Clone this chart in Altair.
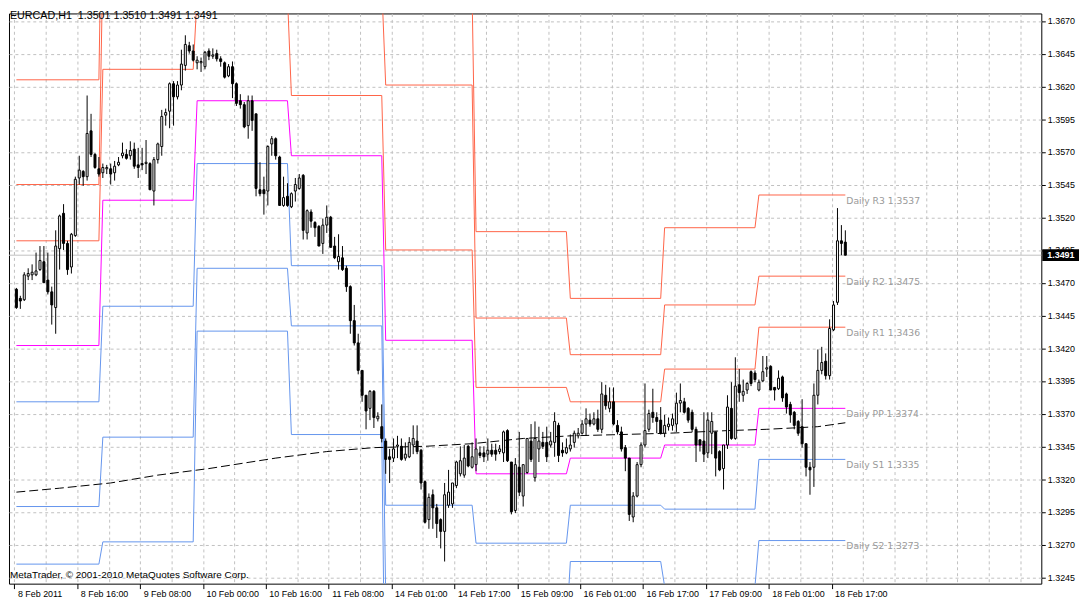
import json
import altair as alt
import pandas as pd

SYMBOL_TEXT = "EURCAD,H1\u00a0\u00a01.3501 1.3510 1.3491 1.3491"
COPYRIGHT_TEXT = "MetaTrader, \u00a9 2001-2010 MetaQuotes Software Corp."

# hourly candles, bar 0 = 8 Feb 2011 00:00
OPEN = [
    1.3465, 1.3458, 1.3457, 1.3475, 1.3476, 1.3476, 1.3480, 1.3486, 1.3472, 1.3463,
    1.3451, 1.3496, 1.3523, 1.3500, 1.3482, 1.3506, 1.3550, 1.3555, 1.3551, 1.3586,
    1.3568, 1.3557, 1.3554, 1.3557, 1.3557, 1.3554, 1.3560, 1.3567, 1.3568, 1.3567,
    1.3572, 1.3560, 1.3561, 1.3561, 1.3561, 1.3540, 1.3564, 1.3574, 1.3598, 1.3601,
    1.3622, 1.3612, 1.3621, 1.3636, 1.3651, 1.3647, 1.3638, 1.3638, 1.3635, 1.3647,
    1.3643, 1.3645, 1.3641, 1.3638, 1.3628, 1.3635, 1.3622, 1.3609, 1.3606, 1.3590,
    1.3609, 1.3599, 1.3541, 1.3541, 1.3540, 1.3576, 1.3580, 1.3566, 1.3529, 1.3536,
    1.3528, 1.3540, 1.3542, 1.3552, 1.3508, 1.3524, 1.3516, 1.3513, 1.3500, 1.3514,
    1.3520, 1.3498, 1.3486, 1.3489, 1.3481, 1.3467, 1.3441, 1.3424, 1.3403, 1.3384,
    1.3374, 1.3387, 1.3366, 1.3360, 1.3349, 1.3337, 1.3336, 1.3345, 1.3345, 1.3336,
    1.3337, 1.3346, 1.3349, 1.3342, 1.3318, 1.3289, 1.3308, 1.3298, 1.3289, 1.3280,
    1.3300, 1.3301, 1.3315, 1.3324, 1.3323, 1.3345, 1.3329, 1.3331, 1.3340, 1.3340,
    1.3339, 1.3342, 1.3342, 1.3341, 1.3340, 1.3357, 1.3333, 1.3296, 1.3329, 1.3307,
    1.3325, 1.3349, 1.3321, 1.3343, 1.3348, 1.3348, 1.3346, 1.3348, 1.3361, 1.3342,
    1.3340, 1.3343, 1.3348, 1.3353, 1.3355, 1.3362, 1.3365, 1.3362, 1.3366, 1.3358,
    1.3384, 1.3374, 1.3379, 1.3361, 1.3356, 1.3344, 1.3336, 1.3291, 1.3307, 1.3331,
    1.3346, 1.3358, 1.3371, 1.3367, 1.3365, 1.3355, 1.3360, 1.3361, 1.3362, 1.3378,
    1.3379, 1.3374, 1.3371, 1.3358, 1.3350, 1.3349, 1.3340, 1.3355, 1.3356, 1.3341,
    1.3328, 1.3346, 1.3374, 1.3351, 1.3392, 1.3384, 1.3388, 1.3402, 1.3401, 1.3388,
    1.3395, 1.3404, 1.3406, 1.3390, 1.3389, 1.3398, 1.3385, 1.3377, 1.3371, 1.3364,
    1.3360, 1.3347, 1.3329, 1.3329, 1.3384, 1.3403, 1.3410, 1.3399, 1.3434, 1.3455,
    1.3502, 1.3501,
]
HIGH = [
    1.3466, 1.3460, 1.3478, 1.3481, 1.3484, 1.3493, 1.3498, 1.3498, 1.3493, 1.3467,
    1.3510, 1.3522, 1.3530, 1.3502, 1.3508, 1.3551, 1.3567, 1.3556, 1.3613, 1.3599,
    1.3569, 1.3566, 1.3561, 1.3560, 1.3561, 1.3563, 1.3566, 1.3577, 1.3572, 1.3578,
    1.3577, 1.3573, 1.3573, 1.3579, 1.3562, 1.3566, 1.3577, 1.3602, 1.3603, 1.3623,
    1.3624, 1.3624, 1.3648, 1.3659, 1.3654, 1.3652, 1.3643, 1.3642, 1.3647, 1.3649,
    1.3649, 1.3648, 1.3643, 1.3639, 1.3637, 1.3639, 1.3623, 1.3614, 1.3608, 1.3613,
    1.3613, 1.3599, 1.3562, 1.3551, 1.3575, 1.3582, 1.3581, 1.3567, 1.3551, 1.3546,
    1.3539, 1.3550, 1.3553, 1.3553, 1.3526, 1.3526, 1.3517, 1.3514, 1.3519, 1.3529,
    1.3521, 1.3505, 1.3507, 1.3498, 1.3483, 1.3468, 1.3453, 1.3431, 1.3403, 1.3384,
    1.3388, 1.3388, 1.3371, 1.3377, 1.3351, 1.3343, 1.3351, 1.3353, 1.3351, 1.3348,
    1.3352, 1.3361, 1.3361, 1.3343, 1.3319, 1.3309, 1.3312, 1.3301, 1.3290, 1.3317,
    1.3327, 1.3317, 1.3334, 1.3345, 1.3346, 1.3346, 1.3348, 1.3351, 1.3345, 1.3345,
    1.3351, 1.3347, 1.3347, 1.3346, 1.3357, 1.3358, 1.3333, 1.3336, 1.3356, 1.3331,
    1.3351, 1.3362, 1.3364, 1.3360, 1.3356, 1.3360, 1.3356, 1.3371, 1.3363, 1.3348,
    1.3351, 1.3354, 1.3357, 1.3359, 1.3365, 1.3374, 1.3370, 1.3371, 1.3373, 1.3394,
    1.3392, 1.3390, 1.3390, 1.3365, 1.3360, 1.3346, 1.3336, 1.3310, 1.3333, 1.3348,
    1.3393, 1.3373, 1.3389, 1.3371, 1.3375, 1.3369, 1.3367, 1.3370, 1.3386, 1.3393,
    1.3382, 1.3375, 1.3373, 1.3360, 1.3350, 1.3371, 1.3371, 1.3371, 1.3356, 1.3342,
    1.3346, 1.3384, 1.3394, 1.3413, 1.3404, 1.3396, 1.3394, 1.3403, 1.3403, 1.3396,
    1.3414, 1.3414, 1.3407, 1.3390, 1.3403, 1.3399, 1.3386, 1.3379, 1.3372, 1.3365,
    1.3381, 1.3347, 1.3333, 1.3393, 1.3419, 1.3421, 1.3416, 1.3442, 1.3456, 1.3527,
    1.3514, 1.3510,
]
LOW = [
    1.3450, 1.3450, 1.3456, 1.3472, 1.3472, 1.3475, 1.3479, 1.3470, 1.3461, 1.3438,
    1.3431, 1.3480, 1.3495, 1.3476, 1.3477, 1.3505, 1.3545, 1.3544, 1.3548, 1.3566,
    1.3557, 1.3551, 1.3550, 1.3553, 1.3545, 1.3548, 1.3559, 1.3565, 1.3564, 1.3564,
    1.3557, 1.3550, 1.3556, 1.3553, 1.3541, 1.3529, 1.3561, 1.3567, 1.3590, 1.3588,
    1.3590, 1.3610, 1.3617, 1.3632, 1.3645, 1.3639, 1.3633, 1.3631, 1.3633, 1.3640,
    1.3641, 1.3639, 1.3635, 1.3626, 1.3627, 1.3611, 1.3605, 1.3603, 1.3588, 1.3580,
    1.3586, 1.3536, 1.3536, 1.3522, 1.3529, 1.3567, 1.3564, 1.3529, 1.3528, 1.3528,
    1.3527, 1.3532, 1.3541, 1.3503, 1.3503, 1.3512, 1.3505, 1.3498, 1.3492, 1.3508,
    1.3497, 1.3488, 1.3480, 1.3479, 1.3463, 1.3431, 1.3422, 1.3400, 1.3379, 1.3358,
    1.3365, 1.3359, 1.3364, 1.3348, 1.3324, 1.3317, 1.3333, 1.3336, 1.3334, 1.3334,
    1.3336, 1.3339, 1.3339, 1.3312, 1.3286, 1.3282, 1.3282, 1.3275, 1.3267, 1.3257,
    1.3298, 1.3298, 1.3313, 1.3322, 1.3321, 1.3329, 1.3328, 1.3326, 1.3336, 1.3333,
    1.3334, 1.3337, 1.3334, 1.3339, 1.3333, 1.3333, 1.3293, 1.3294, 1.3307, 1.3299,
    1.3324, 1.3333, 1.3318, 1.3333, 1.3343, 1.3333, 1.3344, 1.3337, 1.3333, 1.3337,
    1.3339, 1.3341, 1.3344, 1.3351, 1.3354, 1.3353, 1.3360, 1.3361, 1.3356, 1.3355,
    1.3373, 1.3371, 1.3361, 1.3354, 1.3341, 1.3326, 1.3288, 1.3287, 1.3306, 1.3329,
    1.3344, 1.3356, 1.3363, 1.3355, 1.3354, 1.3352, 1.3357, 1.3357, 1.3356, 1.3371,
    1.3370, 1.3363, 1.3356, 1.3333, 1.3341, 1.3333, 1.3336, 1.3339, 1.3322, 1.3326,
    1.3312, 1.3343, 1.3350, 1.3350, 1.3379, 1.3379, 1.3385, 1.3391, 1.3394, 1.3387,
    1.3394, 1.3398, 1.3388, 1.3380, 1.3388, 1.3379, 1.3370, 1.3363, 1.3358, 1.3353,
    1.3344, 1.3322, 1.3308, 1.3314, 1.3377, 1.3400, 1.3396, 1.3396, 1.3433, 1.3453,
    1.3491, 1.3491,
]
CLOSE = [
    1.3451, 1.3456, 1.3476, 1.3477, 1.3478, 1.3479, 1.3487, 1.3470, 1.3463, 1.3453,
    1.3498, 1.3521, 1.3500, 1.3480, 1.3507, 1.3549, 1.3556, 1.3551, 1.3584, 1.3568,
    1.3558, 1.3553, 1.3558, 1.3558, 1.3553, 1.3559, 1.3562, 1.3569, 1.3565, 1.3571,
    1.3559, 1.3558, 1.3560, 1.3562, 1.3541, 1.3564, 1.3576, 1.3597, 1.3600, 1.3622,
    1.3612, 1.3621, 1.3637, 1.3652, 1.3647, 1.3640, 1.3640, 1.3639, 1.3646, 1.3643,
    1.3644, 1.3641, 1.3639, 1.3627, 1.3635, 1.3622, 1.3607, 1.3606, 1.3589, 1.3609,
    1.3594, 1.3542, 1.3538, 1.3538, 1.3574, 1.3580, 1.3567, 1.3529, 1.3535, 1.3529,
    1.3538, 1.3545, 1.3550, 1.3510, 1.3525, 1.3517, 1.3512, 1.3498, 1.3514, 1.3520,
    1.3497, 1.3489, 1.3490, 1.3480, 1.3467, 1.3441, 1.3424, 1.3403, 1.3384, 1.3372,
    1.3387, 1.3367, 1.3368, 1.3351, 1.3335, 1.3335, 1.3343, 1.3346, 1.3335, 1.3339,
    1.3348, 1.3351, 1.3341, 1.3317, 1.3287, 1.3306, 1.3298, 1.3286, 1.3280, 1.3308,
    1.3310, 1.3317, 1.3333, 1.3334, 1.3336, 1.3330, 1.3337, 1.3343, 1.3338, 1.3337,
    1.3342, 1.3339, 1.3339, 1.3343, 1.3356, 1.3334, 1.3295, 1.3331, 1.3310, 1.3331,
    1.3351, 1.3335, 1.3351, 1.3349, 1.3345, 1.3337, 1.3349, 1.3364, 1.3338, 1.3340,
    1.3344, 1.3346, 1.3355, 1.3355, 1.3362, 1.3366, 1.3362, 1.3366, 1.3358, 1.3385,
    1.3376, 1.3379, 1.3362, 1.3356, 1.3343, 1.3336, 1.3293, 1.3307, 1.3331, 1.3346,
    1.3357, 1.3370, 1.3367, 1.3364, 1.3355, 1.3361, 1.3362, 1.3366, 1.3378, 1.3380,
    1.3371, 1.3365, 1.3358, 1.3346, 1.3346, 1.3339, 1.3365, 1.3364, 1.3336, 1.3327,
    1.3346, 1.3375, 1.3351, 1.3391, 1.3386, 1.3387, 1.3393, 1.3393, 1.3396, 1.3394,
    1.3402, 1.3405, 1.3388, 1.3388, 1.3397, 1.3382, 1.3375, 1.3369, 1.3361, 1.3355,
    1.3347, 1.3329, 1.3327, 1.3384, 1.3403, 1.3409, 1.3399, 1.3435, 1.3453, 1.3502,
    1.3500, 1.3491,
]

# daily pivot levels, one value per day segment
DAY_START = [0, 22, 46, 70, 94, 117, 141, 165, 189]
LAST_BAR = 211
R3 = [1.3625, 1.3814, 1.3817, 1.3743, 1.3689, 1.3509, 1.3458, 1.3512, 1.3537]
R2 = [1.3545, 1.3714, 1.3737, 1.3697, 1.3621, 1.3443, 1.3415, 1.3453, 1.3475]
R1 = [1.3502, 1.3633, 1.3689, 1.3613, 1.3495, 1.3390, 1.3379, 1.3404, 1.3436]
PP = [1.3422, 1.3533, 1.3609, 1.3567, 1.3426, 1.3324, 1.3336, 1.3346, 1.3374]
S1 = [1.3379, 1.3452, 1.3561, 1.3483, 1.3300, 1.3271, 1.3300, 1.3297, 1.3335]
S2 = [1.3299, 1.3352, 1.3481, 1.3437, 1.3231, 1.3205, 1.3257, 1.3238, 1.3273]
S3 = [1.3255, 1.3272, 1.3433, 1.3354, 1.3104, 1.3152, 1.3221, 1.3189, 1.3234]

# moving average (dashed black)
MA_BAR = [0, 11, 24, 36, 49, 66, 79, 91, 104, 116, 129, 141, 154, 166, 181, 191, 204, 211]
MA_VALUE = [1.3310, 1.3313, 1.3317, 1.3323, 1.3328, 1.3336, 1.3341, 1.3344, 1.3345,
            1.3347, 1.3351, 1.3353, 1.3354, 1.3355, 1.3357, 1.3358, 1.3360, 1.3363]

X_LABELS = ["8 Feb 2011", "8 Feb 16:00", "9 Feb 08:00", "10 Feb 00:00", "10 Feb 16:00",
            "11 Feb 08:00", "14 Feb 01:00", "14 Feb 17:00", "15 Feb 09:00", "16 Feb 01:00",
            "16 Feb 17:00", "17 Feb 09:00", "18 Feb 01:00", "18 Feb 17:00"]
PRICE_TICKS = [1.3245, 1.3270, 1.3295, 1.3320, 1.3345, 1.3370, 1.3395, 1.3420, 1.3445,
               1.3470, 1.3495, 1.3520, 1.3545, 1.3570, 1.3595, 1.3620, 1.3645, 1.3670]
PRICE_NOW = 1.3491

LEVEL_NAMES = ["R3", "R2", "R1", "PP", "S1", "S2", "S3"]
LEVEL_COLORS = ["#ff6347", "#ff6347", "#ff6347", "#ff00ff", "#6495ed", "#6495ed", "#6495ed"]

PLOT_WIDTH = 1041
PLOT_HEIGHT = 575
X_DOMAIN = [-0.625, 259.625]
Y_DOMAIN = [1.324008, 1.367569]
AXIS_FONT = "Liberation Sans"
GRID_COLOR = "#c0c0c0"

# --- data frames
candles = pd.DataFrame(
    {"bar": range(len(OPEN)), "open": OPEN, "high": HIGH, "low": LOW, "close": CLOSE}
)

levels = dict(zip(LEVEL_NAMES, [R3, R2, R1, PP, S1, S2, S3]))
pivot_rows = []
for name, values in levels.items():
    for k, start in enumerate(DAY_START):
        end = DAY_START[k + 1] - 1 if k + 1 < len(DAY_START) else LAST_BAR
        pivot_rows.append({"level": name, "bar": start, "price": values[k]})
        pivot_rows.append({"level": name, "bar": end, "price": values[k]})
pivots = pd.DataFrame(pivot_rows)

labels = pd.DataFrame(
    [
        {"bar": LAST_BAR + 0.25, "price": v[-1], "label": f"Daily {n} {v[-1]:.4f}"}
        for n, v in levels.items()
        if v[-1] > Y_DOMAIN[0]
    ]
)

ma = pd.DataFrame({"bar": MA_BAR, "ma": MA_VALUE})
now = pd.DataFrame(
    {"price": [PRICE_NOW], "top": [PRICE_NOW + 0.00045], "bottom": [PRICE_NOW - 0.00045],
     "label": [f"{PRICE_NOW:.4f}"]}
)
texts = pd.DataFrame({"symbol": [SYMBOL_TEXT], "copy": [COPYRIGHT_TEXT]})

# --- axes: grid every 8 bars, labels every 16 bars
grid_x = [8 * k - 0.5 for k in range(33)]
label_x = [16 * k - 0.5 for k in range(len(X_LABELS))]
pos_js = json.dumps(label_x)
label_expr = (
    f"indexof({pos_js}, datum.value) >= 0 ? "
    f"{json.dumps(X_LABELS)}[indexof({pos_js}, datum.value)] : ''"
)

x_scale = alt.Scale(domain=X_DOMAIN, nice=False, zero=False)
y_scale = alt.Scale(domain=Y_DOMAIN, nice=False, zero=False)

x_axis = alt.Axis(
    values=grid_x,
    labelExpr=label_expr,
    grid=True,
    gridDash=[3, 3],
    gridColor=GRID_COLOR,
    gridOpacity=1,
    domain=False,
    ticks=True,
    tickSize=5,
    tickColor="black",
    tickOpacity={"condition": {"test": f"indexof({pos_js}, datum.value) >= 0", "value": 1}, "value": 0},
    labelAlign="left",
    labelOffset=3,
    labelPadding=1,
    labelFont=AXIS_FONT,
    labelFontSize=9,
    labelColor="black",
    labelOverlap=False,
    labelFlush=False,
    title=None,
    zindex=0,
)
y_axis = alt.Axis(
    orient="right",
    values=PRICE_TICKS,
    format=".4f",
    grid=True,
    gridDash=[3, 3],
    gridColor=GRID_COLOR,
    gridOpacity=1,
    domain=False,
    tickSize=4,
    tickColor="black",
    labelPadding=2,
    labelFont=AXIS_FONT,
    labelFontSize=9,
    labelColor="black",
    labelOverlap=False,
    title=None,
    zindex=0,
)


def xenc(field="bar"):
    return alt.X(f"{field}:Q", scale=x_scale, axis=x_axis)


def yenc(field):
    return alt.Y(f"{field}:Q", scale=y_scale, axis=y_axis)


now_line = alt.Chart(now).mark_rule(color=GRID_COLOR, strokeWidth=1).encode(y=yenc("price"))

pivot_lines = (
    alt.Chart(pivots)
    .mark_line(strokeWidth=1, clip=True)
    .encode(
        x=xenc(),
        y=yenc("price"),
        color=alt.Color("level:N", scale=alt.Scale(domain=LEVEL_NAMES, range=LEVEL_COLORS), legend=None),
        detail="level:N",
    )
)

ma_line = (
    alt.Chart(ma)
    .mark_line(color="black", strokeWidth=1, strokeDash=[9, 4])
    .encode(x=xenc(), y=yenc("ma"))
)

wicks = (
    alt.Chart(candles)
    .mark_rule(color="black", strokeWidth=1)
    .encode(x=xenc(), y=yenc("low"), y2="high:Q")
)

bodies = (
    alt.Chart(candles)
    .mark_bar(size=2, stroke="black", strokeWidth=1)
    .encode(
        x=xenc(),
        y=yenc("open"),
        y2="close:Q",
        fill=alt.condition("datum.close >= datum.open", alt.value("white"), alt.value("black")),
    )
)

pivot_text = (
    alt.Chart(labels)
    .mark_text(align="left", baseline="middle", dy=6, color="#9a9a9a", font="DejaVu Sans", fontSize=9.3)
    .encode(x=xenc(), y=yenc("price"), text="label:N")
)

symbol_text = (
    alt.Chart(texts)
    .mark_text(align="left", baseline="middle", color="black", font=AXIS_FONT, fontSize=10.8)
    .encode(x=alt.value(1), y=alt.value(3), text="symbol:N")
)
copy_text = (
    alt.Chart(texts)
    .mark_text(align="left", baseline="middle", color="black", font=AXIS_FONT, fontSize=10)
    .encode(x=alt.value(1), y=alt.value(PLOT_HEIGHT - 9), text="copy:N")
)

now_box = (
    alt.Chart(now)
    .mark_rect(color="black")
    .encode(x=alt.value(PLOT_WIDTH + 1), x2=alt.value(PLOT_WIDTH + 38), y=yenc("top"), y2="bottom:Q")
)
now_text = (
    alt.Chart(now)
    .mark_text(align="left", baseline="middle", color="white", font=AXIS_FONT, fontSize=9, fontWeight="bold")
    .encode(x=alt.value(PLOT_WIDTH + 6), y=yenc("price"), text="label:N")
)

chart = (
    alt.layer(
        now_line, pivot_lines, ma_line, wicks, bodies, pivot_text,
        symbol_text, copy_text, now_box, now_text,
    )
    .properties(
        width=PLOT_WIDTH,
        height=PLOT_HEIGHT,
        padding={"left": 0, "top": 0, "right": 0, "bottom": 0},
        background="white",
    )
    .configure_view(stroke="black", strokeWidth=1)
)

chart.save("out.html", embed_options={"renderer": "svg", "actions": False})
